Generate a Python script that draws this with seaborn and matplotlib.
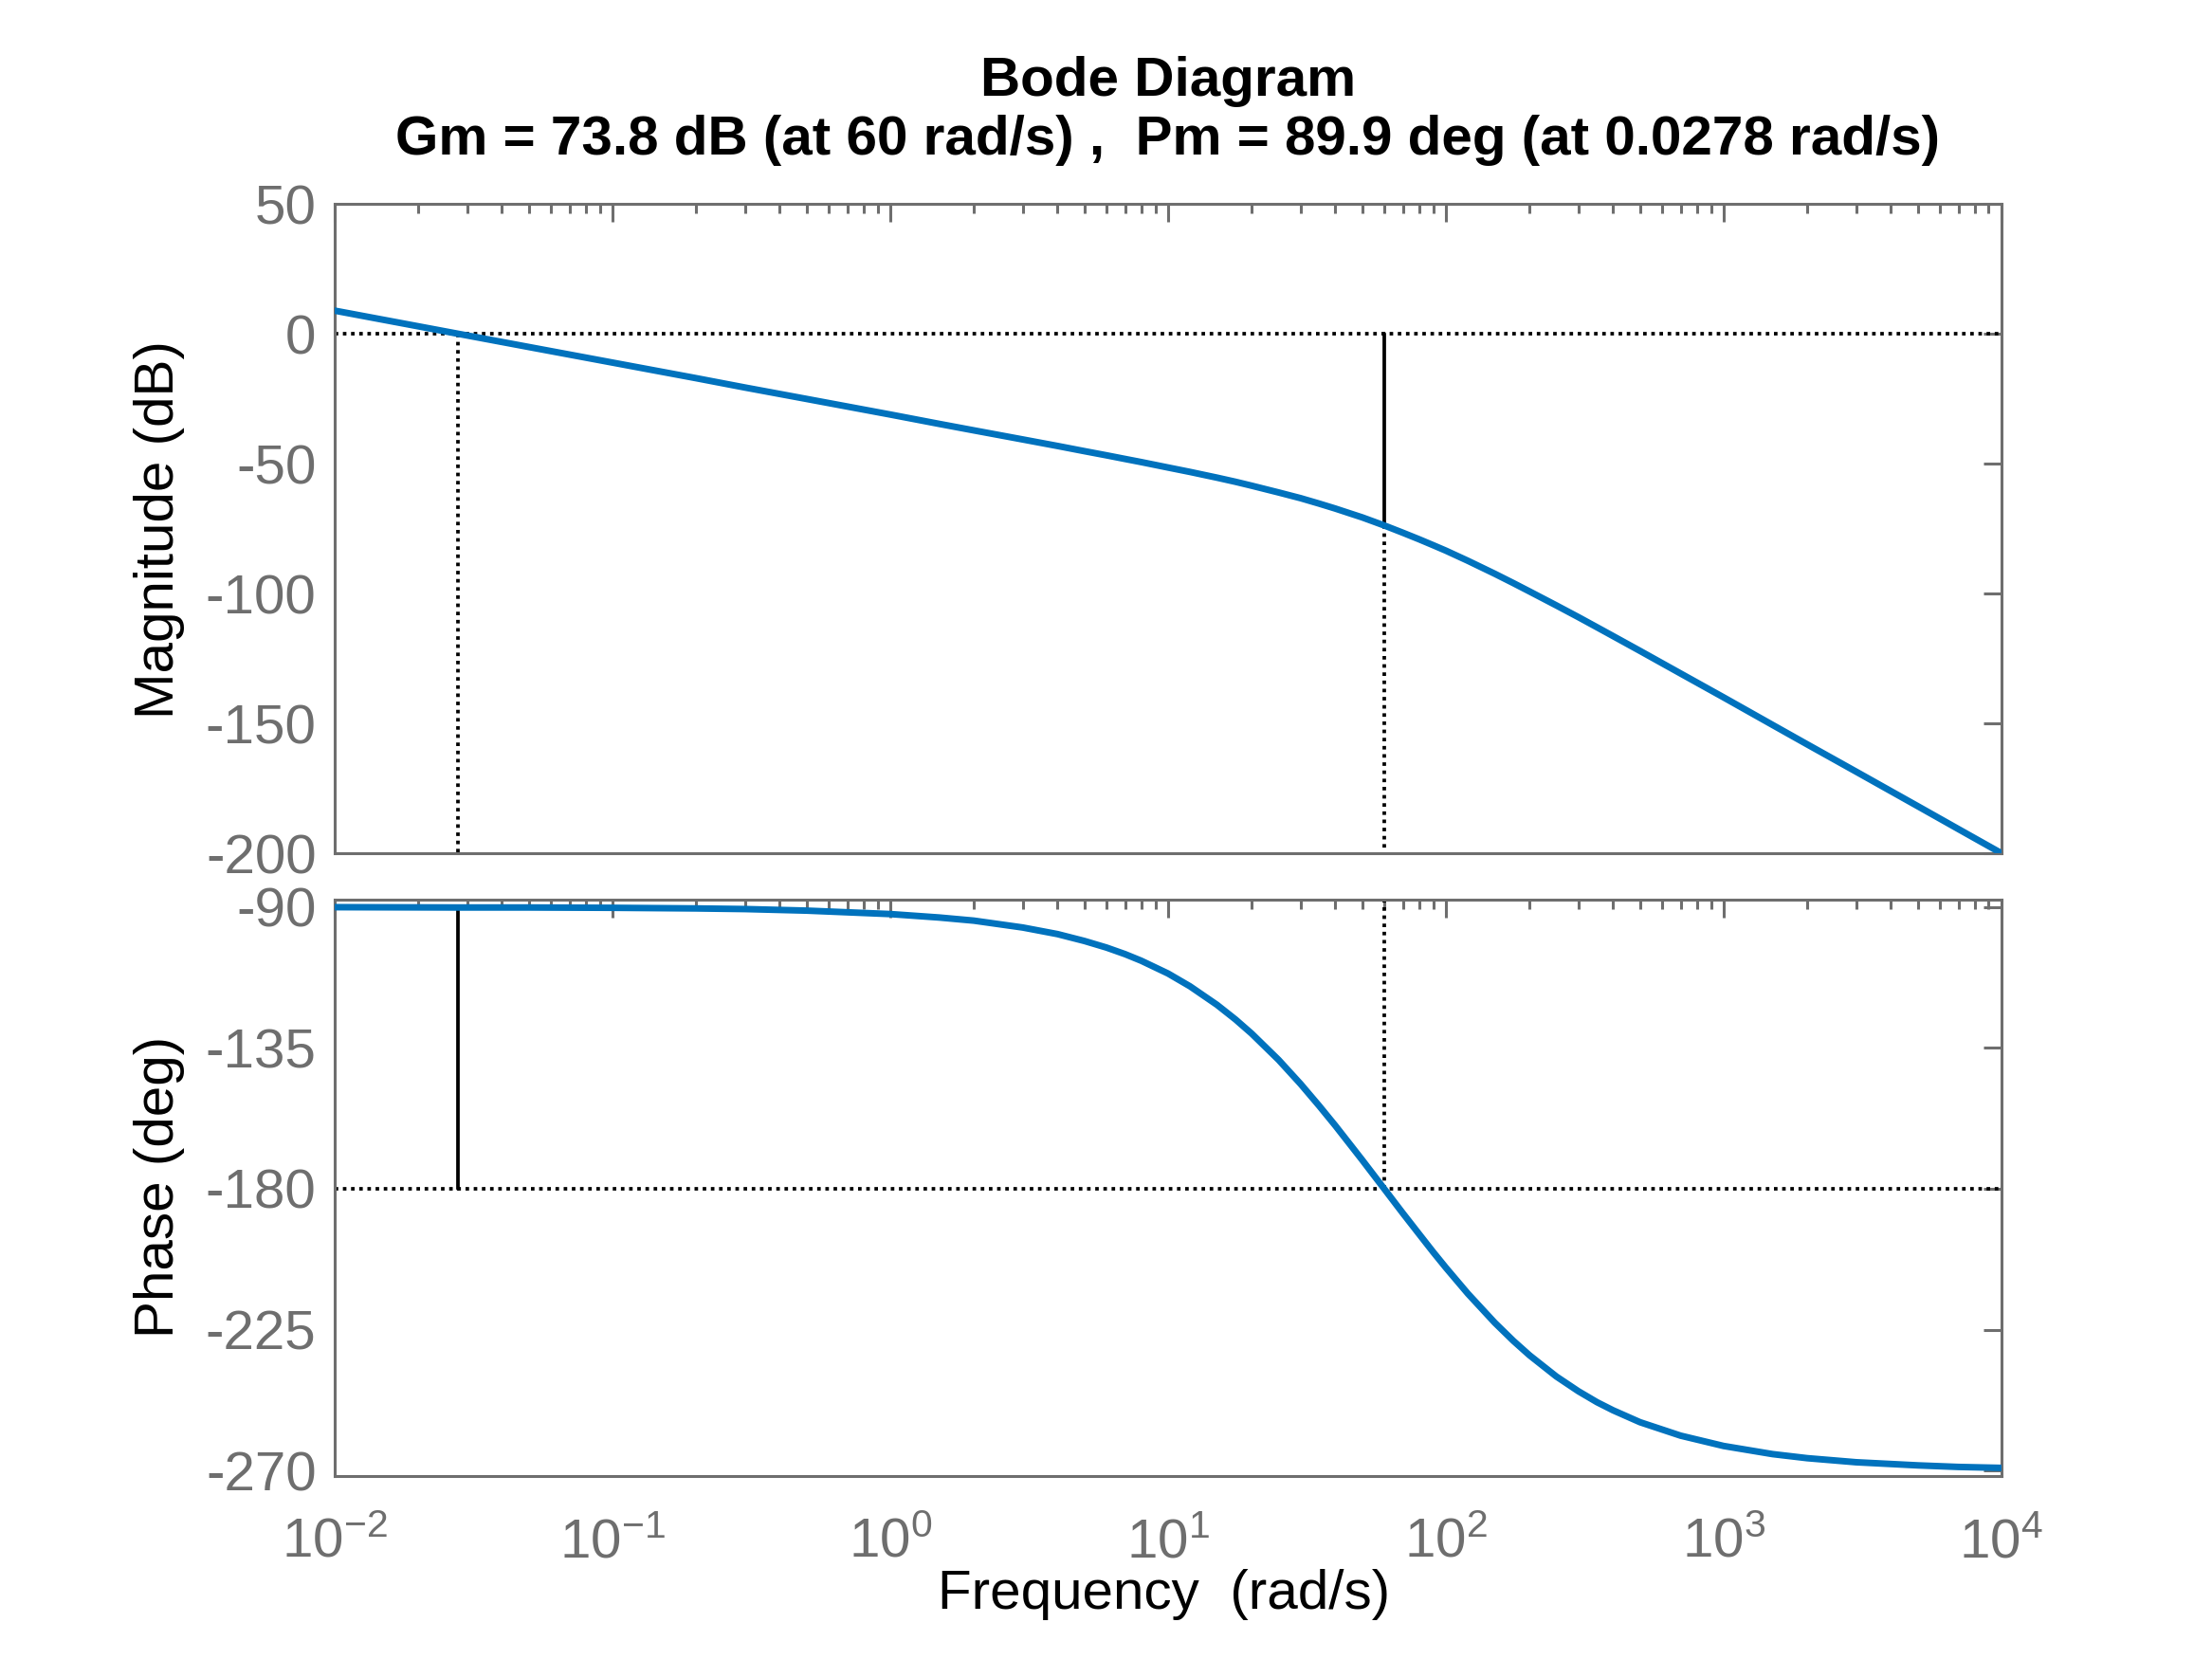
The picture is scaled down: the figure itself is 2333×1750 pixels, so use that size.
import matplotlib
matplotlib.use('Agg')
import matplotlib.pyplot as plt
import matplotlib.ticker as mticker
import seaborn as sns
import pandas as pd

# frequencies (rad/s) and read-off Bode values
freq = [0.01, 0.0278, 0.05, 0.1, 0.2, 0.3, 0.5, 1, 1.5, 2, 3, 4, 5, 6, 7, 8,
        10, 12, 15, 17.5, 20, 25, 30, 35, 40, 45, 50, 60, 70, 80, 90, 100,
        120, 150, 175, 200, 250, 300, 350, 400, 500, 700, 1000, 1500, 2000,
        3000, 5000, 7000, 10000]
mag_db = [8.9, 0.0, -5.1, -11.1, -17.1, -20.7, -25.1, -31.1, -34.7, -37.2,
          -40.7, -43.2, -45.2, -46.8, -48.2, -49.4, -51.5, -53.2, -55.4, -57.0,
          -58.5, -61.1, -63.3, -65.4, -67.3, -69.1, -70.7, -73.8, -76.6, -79.1,
          -81.4, -83.5, -87.4, -92.4, -96.0, -99.2, -104.6, -109.1, -113.0,
          -116.4, -122.1, -130.8, -140.0, -150.6, -158.1, -168.6, -181.9,
          -190.7, -200.0]
phase_deg = [-90.0, -90.1, -90.1, -90.2, -90.4, -90.6, -91.1, -92.2, -93.3,
             -94.3, -96.5, -98.6, -100.8, -102.9, -105.0, -107.1, -111.2,
             -115.3, -121.2, -125.9, -130.4, -138.8, -146.5, -153.5, -159.8,
             -165.6, -170.8, -180.0, -187.8, -194.4, -200.2, -205.2, -213.5,
             -222.8, -228.6, -233.2, -240.0, -244.7, -248.2, -250.8, -254.6,
             -258.9, -262.2, -264.8, -266.1, -267.4, -268.4, -268.9, -269.2]

# margins
gm_freq = 60
gm_db = -73.8
pm_freq = 0.0278
pm_phase = -90.1

mag_ticks = [50, 0, -50, -100, -150, -200]
phase_ticks = [-90, -135, -180, -225, -270]

df = pd.DataFrame({'freq': freq, 'mag': mag_db, 'phase': phase_deg})

sns.set_style('white')
plt.rcParams['font.family'] = ['Liberation Sans', 'DejaVu Sans']
plt.rcParams['axes.unicode_minus'] = False
plt.rcParams['mathtext.fontset'] = 'custom'
plt.rcParams['mathtext.rm'] = 'Liberation Sans'

GRAY = '#6e6e6e'
BLUE = '#0072BD'
FS = 42
LW_REF = 2.7
DOT = (0, (1, 1.3))

fig = plt.figure(figsize=(23.33, 17.5), dpi=100)
ax1 = fig.add_axes([0.1513, 0.4857, 0.7535, 0.3914])
ax2 = fig.add_axes([0.1513, 0.1103, 0.7535, 0.3474])

# magnitude
sns.lineplot(data=df, x='freq', y='mag', ax=ax1, color=BLUE, linewidth=5.0,
             zorder=3)
ax1.axhline(0, color='black', linestyle=DOT, linewidth=LW_REF, zorder=2)
ax1.plot([gm_freq, gm_freq], [0, gm_db], color='black', linewidth=LW_REF)
ax1.plot([gm_freq, gm_freq], [gm_db, -200], color='black', linestyle=DOT,
         linewidth=LW_REF)
ax1.plot([pm_freq, pm_freq], [0, -200], color='black', linestyle=DOT,
         linewidth=LW_REF)
ax1.set_ylim(-200, 50)

# phase
sns.lineplot(data=df, x='freq', y='phase', ax=ax2, color=BLUE, linewidth=5.0,
             zorder=3)
ax2.axhline(-180, color='black', linestyle=DOT, linewidth=LW_REF, zorder=2)
ax2.plot([pm_freq, pm_freq], [pm_phase, -180], color='black',
         linewidth=LW_REF)
ax2.plot([gm_freq, gm_freq], [-180, -87.6], color='black', linestyle=DOT,
         linewidth=LW_REF)
ax2.set_ylim(-271.8, -87.6)

for ax, ticks in [(ax1, mag_ticks), (ax2, phase_ticks)]:
    ax.set_xscale('log')
    ax.set_xlim(1e-2, 1e4)
    ax.set_yticks(ticks)
    ax.xaxis.set_major_locator(mticker.LogLocator(base=10, numticks=10))
    ax.xaxis.set_minor_locator(
        mticker.LogLocator(base=10, subs=range(2, 10), numticks=100))
    ax.xaxis.set_minor_formatter(mticker.NullFormatter())
    ax.tick_params(which='both', direction='in', top=True, right=True,
                   colors=GRAY, width=2.2, labelsize=FS)
    ax.tick_params(which='major', length=14)
    ax.tick_params(which='minor', length=7)
    ax.tick_params(axis='y', pad=14)
    ax.tick_params(axis='x', pad=31)
    for sp in ax.spines.values():
        sp.set_color(GRAY)
        sp.set_linewidth(2.2)
        sp.set_visible(True)
    ax.set_xlabel('')
    ax.set_ylabel('')

ax1.tick_params(axis='x', labelbottom=False)

fig.text(0.528, 0.933,
         'Bode Diagram\nGm = 73.8 dB (at 60 rad/s) ,  Pm = 89.9 deg (at 0.0278 rad/s)',
         ha='center', va='center', fontsize=FS, fontweight='bold',
         color='black', multialignment='center')
fig.text(0.526, 0.039, 'Frequency  (rad/s)', ha='center', va='center',
         fontsize=FS, color='black')
fig.text(0.072, 0.681, 'Magnitude (dB)', rotation=90, ha='center',
         va='center', fontsize=FS, color='black')
fig.text(0.072, 0.2846, 'Phase (deg)', rotation=90, ha='center',
         va='center', fontsize=FS, color='black')

fig.savefig('out.png', dpi=100)
